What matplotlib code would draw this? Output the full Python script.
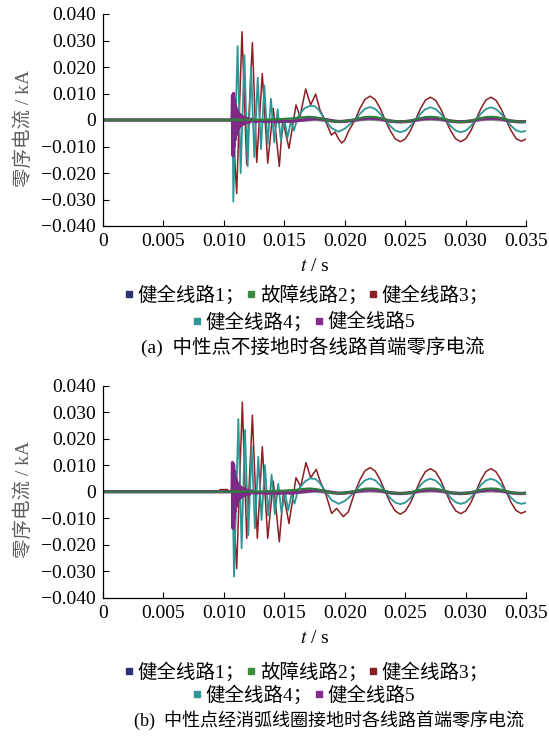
import matplotlib
matplotlib.use("Agg")
import matplotlib.pyplot as plt
from matplotlib.lines import Line2D

plt.rcParams['font.family'] = ['Liberation Serif', 'Noto Sans CJK SC']
plt.rcParams['mathtext.fontset'] = 'stix'

# ---- axes ticks / labels ----
x_ticks = [0, 0.005, 0.010, 0.015, 0.020, 0.025, 0.030, 0.035]
x_labels = ["0", "0.005", "0.010", "0.015", "0.020", "0.025", "0.030", "0.035"]
y_ticks = [-0.04, -0.03, -0.02, -0.01, 0, 0.01, 0.02, 0.03, 0.04]
y_labels = ["\u22120.040", "\u22120.030", "\u22120.020", "\u22120.010", "0",
            "0.010", "0.020", "0.030", "0.040"]

names = ["健全线路1；", "故障线路2；", "健全线路3；", "健全线路4；", "健全线路5"]
captions = ["(a)  中性点不接地时各线路首端零序电流",
            "(b)  中性点经消弧线圈接地时各线路首端零序电流"]

# steady-state sample times (shared)
t_ss = [0.02085, 0.02127, 0.02168, 0.02210, 0.02252, 0.02293, 0.02335,
        0.02377, 0.02418, 0.02460, 0.02502, 0.02543, 0.02585, 0.02627,
        0.02668, 0.02710, 0.02752, 0.02793, 0.02835, 0.02877, 0.02918,
        0.02960, 0.03002, 0.03043, 0.03085, 0.03127, 0.03168, 0.03210,
        0.03252, 0.03293, 0.03335, 0.03377, 0.03418, 0.03460, 0.03500]

# ---------------- panel (a) ----------------
a1_t = [0, 0.01073, 0.01085, 0.01100, 0.01120, 0.01150, 0.01300, 0.01500,
        0.01550, 0.01650, 0.01760, 0.01837, 0.01947]
a1_v = [0, 0, 0.0012, -0.0012, 0.0006, -0.0004, -0.0003, -0.0003,
        -0.0004, -0.0002, 0.0001, -0.0003, -0.0006]
a1_ss = [-0.0002, 0.0000, 0.0001, 0.0002, 0.0001, 0.0000, -0.0002, -0.0004,
         -0.0005, -0.0006, -0.0005, -0.0004, -0.0002, 0.0000, 0.0001, 0.0002,
         0.0001, 0.0000, -0.0002, -0.0004, -0.0005, -0.0006, -0.0005, -0.0004,
         -0.0002, 0.0000, 0.0001, 0.0002, 0.0001, 0.0000, -0.0002, -0.0004,
         -0.0005, -0.0006, -0.0005]

a2_t = [0, 0.01073, 0.01080, 0.01090, 0.01100, 0.01110, 0.01125, 0.01140,
        0.01160, 0.01200, 0.01300, 0.01400, 0.01500, 0.01600, 0.01650,
        0.01710, 0.01760, 0.01837, 0.01890, 0.01947, 0.02000]
a2_v = [0, 0, 0.0004, -0.0003, 0.0003, -0.0002, 0.0002, -0.0001,
        0.0001, 0.0001, 0.0001, 0.0002, 0.0004, 0.0007, 0.0010,
        0.0012, 0.0010, 0.0002, -0.0004, -0.0007, -0.0004]
a2_ss = [0.0002, 0.0007, 0.0011, 0.0012, 0.0011, 0.0007, 0.0002, -0.0003,
         -0.0006, -0.0007, -0.0006, -0.0003, 0.0002, 0.0007, 0.0011, 0.0012,
         0.0011, 0.0007, 0.0002, -0.0003, -0.0006, -0.0007, -0.0006, -0.0003,
         0.0002, 0.0007, 0.0011, 0.0012, 0.0011, 0.0007, 0.0002, -0.0003,
         -0.0006, -0.0007, -0.0006]

a3_t = [0, 0.01073, 0.01106, 0.01150, 0.01189, 0.01236, 0.01272, 0.01318,
        0.01363, 0.01409, 0.01459, 0.01487, 0.01539, 0.01597, 0.01630,
        0.01677, 0.01718, 0.01760, 0.01795, 0.01837, 0.01890, 0.01920,
        0.01947, 0.01975, 0.02000, 0.02030]
a3_v = [0, 0, -0.0278, 0.0333, -0.0168, 0.0292, -0.0160, 0.0175,
        -0.0163, 0.0044, -0.0175, 0.0000, -0.0107, 0.0057, 0.0013,
        0.0117, 0.0057, 0.0098, 0.0038, 0.0000, -0.0057, -0.0045,
        -0.0070, -0.0087, -0.0076, -0.0044]
a3_ss = [0.0000, 0.0045, 0.0078, 0.0090, 0.0077, 0.0044, 0.0000, -0.0041,
         -0.0071, -0.0082, -0.0071, -0.0041, 0.0000, 0.0043, 0.0075, 0.0086,
         0.0074, 0.0043, 0.0000, -0.0041, -0.0071, -0.0082, -0.0071, -0.0041,
         0.0000, 0.0043, 0.0075, 0.0086, 0.0074, 0.0043, 0.0000, -0.0040,
         -0.0070, -0.0080, -0.0072]

a4_t = [0, 0.01073, 0.01078, 0.01114, 0.01139, 0.01170, 0.01197, 0.01225,
        0.01252, 0.01280, 0.01307, 0.01335, 0.01362, 0.01390, 0.01417,
        0.01445, 0.01472, 0.01500, 0.01527, 0.01555, 0.01580, 0.01610,
        0.01640, 0.01670, 0.01710, 0.01754, 0.01790, 0.01837, 0.01890,
        0.01947, 0.02000]
a4_v = [0, 0, -0.0308, 0.0279, -0.0201, 0.0245, -0.0175, 0.0200,
        -0.0140, 0.0160, -0.0110, 0.0130, -0.0090, 0.0080, -0.0085,
        0.0040, -0.0078, 0.0005, -0.0065, -0.0005, -0.0040, 0.0010,
        0.0030, 0.0045, 0.0053, 0.0052, 0.0035, 0.0000, -0.0030,
        -0.0044, -0.0033]
a4_ss = [0.0000, 0.0024, 0.0042, 0.0049, 0.0042, 0.0024, 0.0000, -0.0023,
         -0.0040, -0.0046, -0.0040, -0.0023, 0.0000, 0.0024, 0.0041, 0.0048,
         0.0041, 0.0024, 0.0000, -0.0023, -0.0040, -0.0046, -0.0040, -0.0023,
         0.0000, 0.0024, 0.0041, 0.0048, 0.0041, 0.0024, 0.0000, -0.0022,
         -0.0039, -0.0045, -0.0041]

a5_t = [0, 0.01068, 0.01072, 0.01076, 0.01080, 0.01084, 0.01088, 0.01092,
        0.01096, 0.01100, 0.01104, 0.01108, 0.01113, 0.01118, 0.01123,
        0.01128, 0.01134, 0.01140, 0.01147, 0.01154, 0.01162, 0.01170,
        0.01180, 0.01190, 0.01200, 0.01215, 0.01230, 0.01260, 0.01300,
        0.01350, 0.01400, 0.01450, 0.01500, 0.01550, 0.01600, 0.01650,
        0.01700, 0.01750, 0.01800, 0.01850, 0.01900, 0.01950, 0.02000]
a5_v = [0, 0, 0.0092, -0.0135, 0.0100, -0.0100, 0.0075, -0.0075,
        0.0055, -0.0058, 0.0042, -0.0045, 0.0032, -0.0035, 0.0025,
        -0.0028, 0.0019, -0.0022, 0.0015, -0.0017, 0.0011, -0.0013,
        0.0008, -0.0010, 0.0005, -0.0008, 0.0003, -0.0006, -0.0003,
        -0.0006, -0.0004, -0.0006, -0.0004, -0.0005, -0.0003, 0.0000,
        0.0003, 0.0005, 0.0004, 0.0001, -0.0003, -0.0006, -0.0005]
a5_ss = [0.0000, 0.0004, 0.0006, 0.0007, 0.0006, 0.0004, 0.0000, -0.0004,
         -0.0006, -0.0007, -0.0006, -0.0004, 0.0000, 0.0004, 0.0006, 0.0007,
         0.0006, 0.0004, 0.0000, -0.0004, -0.0006, -0.0007, -0.0006, -0.0004,
         0.0000, 0.0004, 0.0006, 0.0007, 0.0006, 0.0004, 0.0000, -0.0004,
         -0.0006, -0.0007, -0.0006]

# ---------------- panel (b) ----------------
b1_t = [0, 0.01073, 0.01085, 0.01100, 0.01120, 0.01150, 0.01300, 0.01500,
        0.01550, 0.01650, 0.01760, 0.01840, 0.01950]
b1_v = [0, 0, 0.0013, -0.0013, 0.0006, -0.0004, -0.0003, -0.0003,
        -0.0004, -0.0002, 0.0001, -0.0003, -0.0006]
b1_ss = a1_ss

b2_t = [0, 0.01073, 0.01080, 0.01090, 0.01100, 0.01110, 0.01125, 0.01140,
        0.01160, 0.01200, 0.01300, 0.01400, 0.01500, 0.01600, 0.01650,
        0.01710, 0.01760, 0.01840, 0.01892, 0.01950, 0.02005]
b2_v = [0, 0, 0.0004, -0.0003, 0.0003, -0.0002, 0.0002, -0.0001,
        0.0001, 0.0001, 0.0001, 0.0002, 0.0004, 0.0007, 0.0010,
        0.0012, 0.0010, 0.0002, -0.0004, -0.0007, -0.0004]
b2_ss = a2_ss

b3_t = [0, 0.00950, 0.00970, 0.01030, 0.01045, 0.01073, 0.01106, 0.01153,
        0.01189, 0.01236, 0.01277, 0.01318, 0.01363, 0.01409, 0.01459,
        0.01492, 0.01539, 0.01597, 0.01636, 0.01680, 0.01718, 0.01765,
        0.01800, 0.01837, 0.01892, 0.01933, 0.01988, 0.02030]
b3_v = [0, 0, 0.0008, 0.0008, 0, 0, -0.0290, 0.0338,
        -0.0176, 0.0289, -0.0176, 0.0170, -0.0176, 0.0040, -0.0189,
        -0.0006, -0.0120, 0.0053, 0.0019, 0.0110, 0.0053, 0.0084,
        0.0035, 0.0000, -0.0082, -0.0063, -0.0094, -0.0076]
b3_ss = [0.0000, 0.0046, 0.0079, 0.0091, 0.0078, 0.0045, 0.0000, -0.0042,
         -0.0073, -0.0085, -0.0073, -0.0042, 0.0000, 0.0044, 0.0076, 0.0087,
         0.0075, 0.0044, 0.0000, -0.0042, -0.0072, -0.0083, -0.0072, -0.0042,
         0.0000, 0.0044, 0.0076, 0.0087, 0.0075, 0.0044, 0.0000, -0.0041,
         -0.0071, -0.0082, -0.0074]

b4_t = [0, 0.01073, 0.01084, 0.01120, 0.01147, 0.01175, 0.01202, 0.01230,
        0.01257, 0.01285, 0.01312, 0.01340, 0.01367, 0.01395, 0.01422,
        0.01450, 0.01477, 0.01505, 0.01532, 0.01560, 0.01585, 0.01615,
        0.01645, 0.01675, 0.01715, 0.01758, 0.01795, 0.01840, 0.01892,
        0.01950, 0.02005]
b4_v = [0, 0, -0.0320, 0.0274, -0.0214, 0.0233, -0.0164, 0.0170,
        -0.0138, 0.0132, -0.0107, 0.0100, -0.0090, 0.0065, -0.0085,
        0.0030, -0.0080, 0.0000, -0.0070, -0.0010, -0.0045, 0.0008,
        0.0025, 0.0040, 0.0050, 0.0048, 0.0032, 0.0000, -0.0032,
        -0.0046, -0.0034]
b4_ss = [0.0000, 0.0025, 0.0043, 0.0050, 0.0043, 0.0025, 0.0000, -0.0024,
         -0.0041, -0.0047, -0.0041, -0.0024, 0.0000, 0.0025, 0.0042, 0.0049,
         0.0042, 0.0025, 0.0000, -0.0023, -0.0040, -0.0046, -0.0040, -0.0023,
         0.0000, 0.0025, 0.0042, 0.0049, 0.0042, 0.0025, 0.0000, -0.0023,
         -0.0040, -0.0046, -0.0042]

b5_t = a5_t
b5_v = [0, 0, 0.0110, -0.0138, 0.0102, -0.0102, 0.0077, -0.0076,
        0.0056, -0.0058, 0.0042, -0.0045, 0.0032, -0.0035, 0.0025,
        -0.0028, 0.0019, -0.0022, 0.0015, -0.0017, 0.0011, -0.0013,
        0.0008, -0.0010, 0.0005, -0.0008, 0.0003, -0.0006, -0.0003,
        -0.0006, -0.0004, -0.0006, -0.0004, -0.0005, -0.0003, 0.0000,
        0.0003, 0.0005, 0.0004, 0.0001, -0.0003, -0.0006, -0.0005]
b5_ss = a5_ss

# line styles
line_colors = ["#8e8e8e", "#2f7d3b", "#8a1f24", "#2f9696", "#7e2b88"]
marker_colors = ["#2e3172", "#3b8b40", "#8a1f24", "#2f9696", "#862c8c"]
line_widths = [2.0, 1.6, 1.1, 1.3, 2.4]
draw_order = [0, 2, 3, 4, 1]

panel_data = [
    [(a1_t, a1_v, a1_ss), (a2_t, a2_v, a2_ss), (a3_t, a3_v, a3_ss),
     (a4_t, a4_v, a4_ss), (a5_t, a5_v, a5_ss)],
    [(b1_t, b1_v, b1_ss), (b2_t, b2_v, b2_ss), (b3_t, b3_v, b3_ss),
     (b4_t, b4_v, b4_ss), (b5_t, b5_v, b5_ss)],
]

W, H = 549, 736
fig = plt.figure(figsize=(W / 100, H / 100), dpi=100)

axes_top = [14, 385.7]
text_rows = [(295, 321.7, 346.7), (671.7, 695, 720)]
caption_x = [313, 329]
caption_size = [14, 13]

for p in range(2):
    top = axes_top[p]
    ax = fig.add_axes([103 / W, 1 - (top + 212) / H, 423 / W, 212 / H])
    for k in draw_order:
        t, v, ss = panel_data[p][k]
        ax.plot(list(t) + t_ss, list(v) + list(ss), color=line_colors[k],
                lw=line_widths[k], solid_joinstyle='round')

    ax.set_xlim(0, 0.035)
    ax.set_ylim(-0.04, 0.04)
    ax.set_xticks(x_ticks)
    ax.set_xticklabels(x_labels)
    ax.set_yticks(y_ticks)
    ax.set_yticklabels(y_labels)
    ax.tick_params(direction='in', length=4, width=0.8, labelsize=14, pad=5)
    for s in ['top', 'right']:
        ax.spines[s].set_visible(False)
    for s in ['left', 'bottom']:
        ax.spines[s].set_linewidth(0.9)

    ax.set_xlabel("$t$ / s", fontsize=14, labelpad=6)
    ax.set_ylabel("零序电流 / kA", fontsize=14, color="#5e5e5e")
    ax.yaxis.set_label_coords(-0.166, 0.462)

    r1, r2, cap = text_rows[p]
    handles = [Line2D([], [], ls='none', marker='s', ms=4.5,
                      color=marker_colors[k]) for k in range(5)]
    leg_kw = dict(loc='center', frameon=False, fontsize=14, handlelength=0.6,
                  handletextpad=0.15, columnspacing=0.0, borderpad=0,
                  borderaxespad=0)
    fig.legend(handles[:3], names[:3], ncol=3,
               bbox_to_anchor=(306 / W, 1 - r1 / H), **leg_kw)
    fig.legend(handles[3:], names[3:], ncol=2,
               bbox_to_anchor=(303 / W, 1 - r2 / H), **leg_kw)
    fig.text(caption_x[p] / W, 1 - cap / H, captions[p], ha='center',
             va='center', fontsize=caption_size[p])

fig.savefig("out.png", dpi=100)
